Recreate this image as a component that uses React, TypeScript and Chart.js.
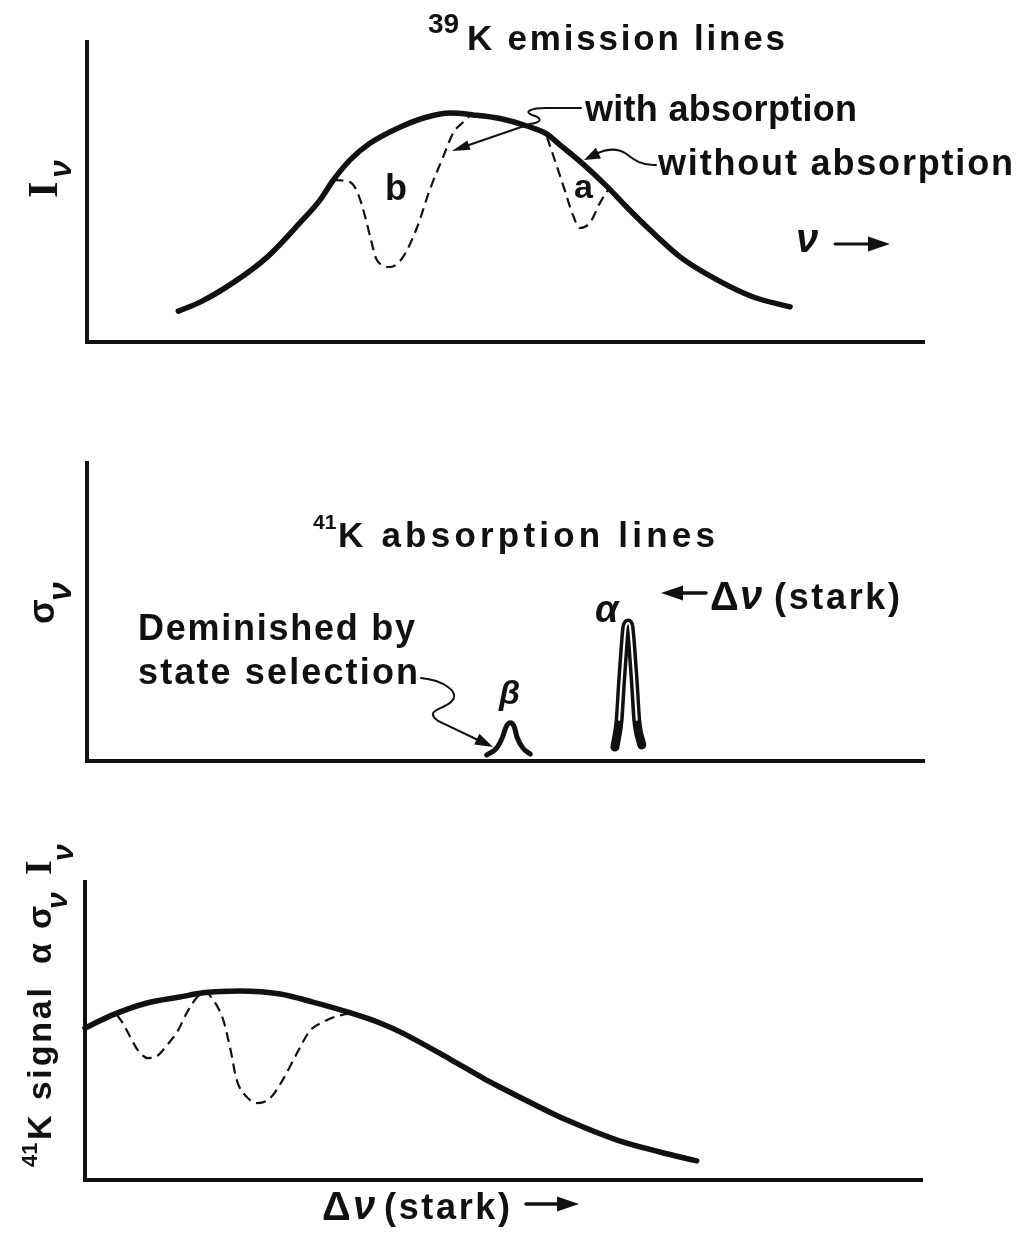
import React, { useEffect, useRef } from "react";
import { Chart, registerables } from "chart.js";

Chart.register(...registerables);

// ---------- Panel 1: 39K emission lines (x = ν, y = I_ν, arbitrary units 0–100) ----------
const emisX = [10.9, 13.5, 17.4, 21.5, 25.4, 27.8, 29.4, 31.4, 33.8, 37.4, 40.6, 43.3, 46.1, 49.3, 52.5, 54.9, 56.4, 59.2, 62.1, 64.4, 67.2, 70.8, 75.2, 79.5, 83.9];
const emisY = [10.3, 13.3, 19.7, 28.3, 39.7, 47.3, 54.0, 60.7, 66.3, 71.7, 75.0, 76.3, 75.7, 74.5, 72.0, 69.3, 65.8, 59.3, 51.7, 45.0, 37.3, 28.3, 20.7, 15.0, 11.7];
// dip "b" (with absorption)
const dipBX = [29.4, 31.4, 32.3, 33.2, 33.8, 34.6, 36.2, 37.7, 39.4, 40.9, 42.5, 43.7, 44.9, 45.7];
const dipBY = [54.0, 53.3, 49.7, 41.7, 35.0, 27.3, 25.0, 28.3, 38.3, 50.7, 61.7, 69.7, 73.3, 75.5];
// dip "a" (with absorption)
const dipAX = [54.9, 56.1, 57.0, 57.9, 58.8, 60.0, 61.2, 62.4];
const dipAY = [68.3, 58.3, 50.7, 43.0, 38.0, 39.7, 46.3, 51.7];

// ---------- Panel 2: 41K absorption lines (x = Δν, y = σ_ν) ----------
const betaX = [47.7, 48.9, 49.6, 50.0, 50.5, 51.0, 51.3, 52.0, 52.9];
const betaY = [2.0, 4.4, 8.1, 11.4, 12.8, 11.4, 8.1, 4.4, 2.3];
const alphaX = [63.0, 63.5, 63.8, 64.1, 64.3, 64.6, 64.8, 65.0, 65.3, 65.6, 66.2];
const alphaY = [4.7, 13.8, 27.2, 38.9, 45.0, 46.3, 45.0, 38.9, 27.2, 13.8, 5.4];

// ---------- Panel 3: 41K signal ∝ σ_ν I_ν (x = Δν(stark)) ----------
const sigX = [0, 3.3, 7.4, 11.3, 14.1, 18.5, 23.3, 27.2, 31.3, 35.2, 37.6, 43.6, 47.5, 49.5, 53.5, 57.5, 63.5, 68.6, 73.0];
const sigY = [51.0, 55.4, 59.4, 61.4, 62.8, 63.4, 62.4, 59.7, 56.4, 52.7, 49.7, 40.5, 34.2, 31.2, 25.5, 20.1, 13.4, 9.4, 6.4];
const sigDipX = [3.8, 4.5, 5.4, 6.3, 7.5, 8.6, 9.8, 11.0, 12.2, 13.4, 14.3, 15.3, 16.5, 17.3, 18.1, 19.3, 20.6, 22.1, 23.6, 25.3, 26.9, 28.4, 30.1, 31.6, 32.8];
const sigDipY = [55.4, 52.7, 48.0, 43.6, 40.9, 41.6, 45.3, 49.7, 56.4, 61.4, 63.1, 60.4, 53.7, 44.6, 33.6, 27.9, 25.8, 27.5, 33.6, 42.6, 50.3, 53.0, 55.0, 55.7, 55.0];

const INK = "#111";
const SANS = '"Liberation Sans", Arial, sans-serif';
const SERIF = '"Liberation Serif", serif';

const pts = (xs: number[], ys: number[]) => xs.map((x, i) => ({ x, y: ys[i] }));

const solid = (xs: number[], ys: number[], w = 5.5, color = INK, order = 1) => ({
  data: pts(xs, ys),
  borderColor: color,
  borderWidth: w,
  pointRadius: 0,
  cubicInterpolationMode: "monotone",
  borderCapStyle: "round",
  borderJoinStyle: "round",
  fill: false,
  clip: false,
  order,
});
const dashed = (xs: number[], ys: number[]) => ({
  ...solid(xs, ys, 2.2),
  borderDash: [10, 6],
  borderCapStyle: "butt",
});

type TxtOpt = { italic?: boolean; serif?: boolean; width?: number; weight?: string };
function txt(ctx: CanvasRenderingContext2D, s: string, x: number, y: number, size: number, o: TxtOpt = {}) {
  const c = ctx as any;
  ctx.font = `${o.italic ? "italic " : ""}${o.weight ?? "bold"} ${size}px ${o.serif ? SERIF : SANS}`;
  c.letterSpacing = "0px";
  if (o.width && s.length > 1) {
    const w = ctx.measureText(s).width;
    c.letterSpacing = `${(o.width - w) / (s.length - 1)}px`;
  }
  ctx.fillStyle = INK;
  ctx.textAlign = "left";
  ctx.textBaseline = "alphabetic";
  ctx.fillText(s, x, y);
  c.letterSpacing = "0px";
}

function head(ctx: CanvasRenderingContext2D, fx: number, fy: number, tx: number, ty: number, len = 16, hw = 6) {
  const a = Math.atan2(ty - fy, tx - fx);
  const bx = tx - len * Math.cos(a);
  const by = ty - len * Math.sin(a);
  const px = -Math.sin(a) * hw;
  const py = Math.cos(a) * hw;
  ctx.beginPath();
  ctx.moveTo(tx, ty);
  ctx.lineTo(bx + px, by + py);
  ctx.lineTo(bx - px, by - py);
  ctx.closePath();
  ctx.fillStyle = INK;
  ctx.fill();
}

function drawPanel1(ctx: CanvasRenderingContext2D) {
  txt(ctx, "39", 428, 33, 28);
  txt(ctx, "K emission lines", 467, 50, 35, { width: 318 });
  txt(ctx, "with absorption", 585, 121, 36, { width: 272 });
  txt(ctx, "without absorption", 658, 175, 36, { width: 355 });
  txt(ctx, "b", 385, 200, 36);
  txt(ctx, "a", 574, 198, 34);
  txt(ctx, "ν", 796, 252, 40, { italic: true });
  ctx.strokeStyle = INK;
  ctx.lineCap = "round";
  ctx.lineWidth = 3;
  ctx.beginPath();
  ctx.moveTo(835, 244);
  ctx.lineTo(872, 244);
  ctx.stroke();
  head(ctx, 860, 244, 890, 244, 22, 7.5);
  // leader: with absorption
  ctx.lineWidth = 2;
  ctx.beginPath();
  ctx.moveTo(581, 108);
  ctx.lineTo(546, 108);
  ctx.bezierCurveTo(530, 108, 524, 112, 532, 115);
  ctx.bezierCurveTo(542, 118, 543, 122, 530, 124);
  ctx.lineTo(466, 146);
  ctx.stroke();
  head(ctx, 530, 124, 452, 151, 18, 5);
  // leader: without absorption
  ctx.beginPath();
  ctx.moveTo(656, 165);
  ctx.bezierCurveTo(640, 166, 632, 158, 625, 153);
  ctx.bezierCurveTo(615, 147, 605, 150, 598, 153);
  ctx.stroke();
  head(ctx, 605, 150, 584, 160, 16, 6);
  // y label I_ν
  ctx.save();
  ctx.translate(57, 198);
  ctx.rotate(-Math.PI / 2);
  txt(ctx, "I", 0, 0, 42, { serif: true });
  txt(ctx, "ν", 20, 14, 32, { italic: true });
  ctx.restore();
}

function drawPanel2(ctx: CanvasRenderingContext2D) {
  txt(ctx, "41", 313, 529, 21);
  txt(ctx, "K absorption lines", 338, 547, 35, { width: 377 });
  ctx.strokeStyle = INK;
  ctx.lineWidth = 3.5;
  ctx.lineCap = "round";
  ctx.beginPath();
  ctx.moveTo(678, 593);
  ctx.lineTo(706, 593);
  ctx.stroke();
  head(ctx, 690, 593, 661, 593, 22, 7.5);
  txt(ctx, "Δ", 710, 610, 40);
  txt(ctx, "ν", 740, 609, 40, { italic: true });
  txt(ctx, "(stark)", 774, 609, 36, { width: 126 });
  txt(ctx, "Deminished by", 138, 640, 36, { width: 277 });
  txt(ctx, "state selection", 138, 684, 36, { width: 280 });
  txt(ctx, "α", 595, 622, 38, { italic: true });
  txt(ctx, "β", 499, 704, 34, { italic: true });
  // curved pointer
  ctx.lineWidth = 2;
  ctx.beginPath();
  ctx.moveTo(421, 678);
  ctx.bezierCurveTo(442, 680, 462, 692, 451, 702);
  ctx.bezierCurveTo(442, 710, 424, 710, 438, 721);
  ctx.lineTo(478, 740);
  ctx.stroke();
  head(ctx, 460, 731, 493, 747, 18, 6);
  // y label σ_ν
  ctx.save();
  ctx.translate(54, 624);
  ctx.rotate(-Math.PI / 2);
  txt(ctx, "σ", 0, 0, 36);
  txt(ctx, "ν", 23, 17, 34, { italic: true });
  ctx.restore();
}

function drawPanel3(ctx: CanvasRenderingContext2D) {
  ctx.save();
  ctx.translate(51, 1167);
  ctx.rotate(-Math.PI / 2);
  txt(ctx, "41", 0, -14, 22);
  txt(ctx, "K signal", 27, 0, 34, { width: 152 });
  txt(ctx, "α", 203, 0, 34);
  txt(ctx, "σ", 238, 0, 34);
  txt(ctx, "ν", 258, 16, 30, { italic: true });
  txt(ctx, "I", 292, 0, 38, { serif: true });
  txt(ctx, "ν", 306, 22, 30, { italic: true });
  ctx.restore();
  txt(ctx, "Δ", 322, 1220, 40);
  txt(ctx, "ν", 353, 1219, 40, { italic: true });
  txt(ctx, "(stark)", 384, 1219, 36, { width: 126 });
  ctx.strokeStyle = INK;
  ctx.lineWidth = 3.5;
  ctx.lineCap = "round";
  ctx.beginPath();
  ctx.moveTo(526, 1204);
  ctx.lineTo(560, 1204);
  ctx.stroke();
  head(ctx, 550, 1204, 579, 1204, 22, 7.5);
}

type PanelProps = {
  top: number;
  height: number;
  padding: { left: number; right: number; top: number; bottom: number };
  datasets: any[];
  draw: (ctx: CanvasRenderingContext2D) => void;
};

function Panel({ top, height, padding, datasets, draw }: PanelProps) {
  const ref = useRef<HTMLCanvasElement>(null);
  useEffect(() => {
    const axis = {
      type: "linear" as const,
      min: 0,
      max: 100,
      display: true,
      grid: { display: false, drawTicks: false, lineWidth: 0 },
      ticks: { display: false },
      border: { display: true, color: INK, width: 4 },
    };
    const chart = new Chart(ref.current!, {
      type: "line",
      data: { datasets },
      options: {
        responsive: false,
        animation: false,
        events: [],
        layout: { padding },
        plugins: { legend: { display: false }, tooltip: { enabled: false } },
        scales: { x: axis, y: axis },
      },
      plugins: [
        {
          id: "annot" + top,
          afterDraw(c: any) {
            const ctx = c.ctx as CanvasRenderingContext2D;
            ctx.save();
            ctx.translate(0, -top);
            draw(ctx);
            ctx.restore();
          },
        },
      ],
    } as any);
    return () => chart.destroy();
  }, []);
  return (
    <canvas
      ref={ref}
      width={1034}
      height={height}
      style={{ position: "absolute", left: 0, top, width: 1034, height }}
    />
  );
}

export default function App() {
  const p1 = [solid(emisX, emisY, 5.5), dashed(dipBX, dipBY), dashed(dipAX, dipAY)];
  const p2 = [
    solid(betaX, betaY, 5),
    solid(alphaX, alphaY, 9, INK, 2),
    solid(alphaX.slice(1, -1), alphaY.slice(1, -1), 2, "#fff", 0),
  ];
  const p3 = [solid(sigX, sigY, 5.5), dashed(sigDipX, sigDipY)];
  return (
    <div style={{ position: "absolute", left: 0, top: 0, width: 1034, height: 1235, background: "#fff", overflow: "hidden" }}>
      <Panel top={0} height={400} padding={{ left: 87, right: 109, top: 42, bottom: 58 }} datasets={p1} draw={drawPanel1} />
      <Panel top={400} height={420} padding={{ left: 87, right: 109, top: 63, bottom: 59 }} datasets={p2} draw={drawPanel2} />
      <Panel top={820} height={415} padding={{ left: 85, right: 111, top: 62, bottom: 55 }} datasets={p3} draw={drawPanel3} />
    </div>
  );
}
